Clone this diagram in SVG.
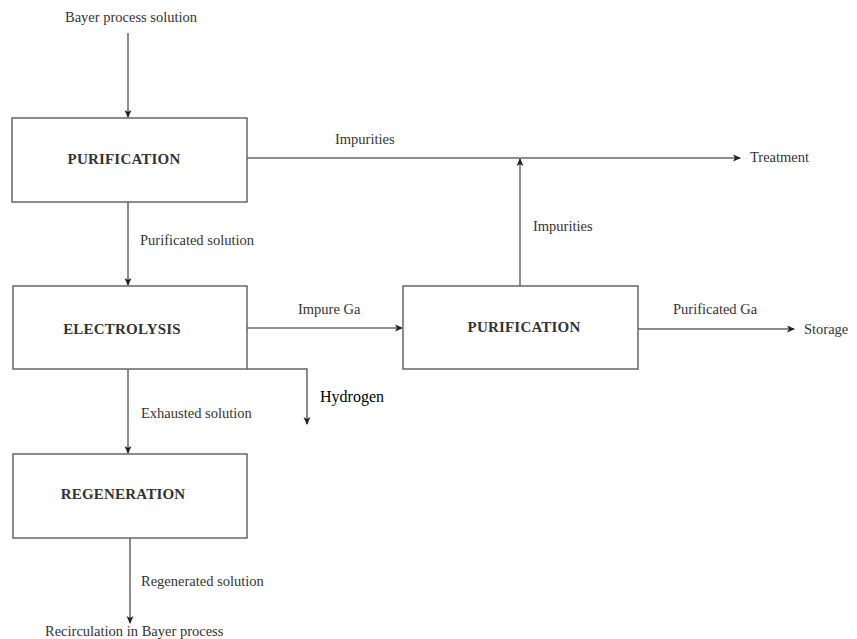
<svg xmlns="http://www.w3.org/2000/svg" width="857" height="639" viewBox="0 0 857 639">
<style>
.box{fill:#fff;stroke:#666;stroke-width:1.5}
.ln{fill:none;stroke:#666;stroke-width:1.5}
.t{font-family:"Liberation Serif","DejaVu Serif","Times New Roman",serif;font-size:14.5px;fill:#333}
.b{font-family:"Liberation Serif","DejaVu Serif","Times New Roman",serif;font-size:15px;font-weight:bold;fill:#333;letter-spacing:0.2px}
.h{font-family:"Liberation Serif","DejaVu Serif","Times New Roman",serif;font-size:16px;fill:#000}
</style>
<defs>
<marker id="ah" markerWidth="8" markerHeight="8" refX="7" refY="4" orient="auto" markerUnits="userSpaceOnUse">
<path d="M0,0.5 L8,4 L0,7.5 L2,4 Z" fill="#222"/>
</marker>
</defs>
<rect width="857" height="639" fill="#fff"/>
<g id="connectors">
<line class="ln" x1="128" y1="33" x2="128" y2="117" marker-end="url(#ah)"/>
<line class="ln" x1="246" y1="158" x2="740" y2="158" marker-end="url(#ah)"/>
<line class="ln" x1="520" y1="286" x2="520" y2="159" marker-end="url(#ah)"/>
<line class="ln" x1="128" y1="202" x2="128" y2="285" marker-end="url(#ah)"/>
<line class="ln" x1="247" y1="328" x2="402" y2="328" marker-end="url(#ah)"/>
<line class="ln" x1="638" y1="329" x2="794" y2="329" marker-end="url(#ah)"/>
<polyline class="ln" points="247,369 307,369 307,424" marker-end="url(#ah)"/>
<line class="ln" x1="128" y1="369" x2="128" y2="453" marker-end="url(#ah)"/>
<line class="ln" x1="130" y1="538" x2="130" y2="623" marker-end="url(#ah)"/>
</g>
<g id="purification1">
<rect class="box" x="12" y="118" width="235" height="84"/>
<text class="b" x="124" y="164" text-anchor="middle">PURIFICATION</text>
</g>
<g id="electrolysis">
<rect class="box" x="13" y="286" width="234" height="83"/>
<text class="b" x="122" y="334" text-anchor="middle">ELECTROLYSIS</text>
</g>
<g id="purification2">
<rect class="box" x="403" y="286" width="235" height="83"/>
<text class="b" x="524" y="332" text-anchor="middle">PURIFICATION</text>
</g>
<g id="regeneration">
<rect class="box" x="13" y="454" width="234" height="84"/>
<text class="b" x="123" y="499" text-anchor="middle">REGENERATION</text>
</g>
<g id="labels">
<text class="t" x="65" y="22">Bayer process solution</text>
<text class="t" x="335" y="144">Impurities</text>
<text class="t" x="750" y="162">Treatment</text>
<text class="t" x="533" y="231">Impurities</text>
<text class="t" x="140" y="245">Purificated solution</text>
<text class="t" x="298" y="314">Impure Ga</text>
<text class="t" x="673" y="314">Purificated Ga</text>
<text class="t" x="804" y="334">Storage</text>
<text class="h" x="320" y="402">Hydrogen</text>
<text class="t" x="141" y="418">Exhausted solution</text>
<text class="t" x="141" y="586">Regenerated solution</text>
<text class="t" x="45" y="636">Recirculation in Bayer process</text>
</g>
</svg>
